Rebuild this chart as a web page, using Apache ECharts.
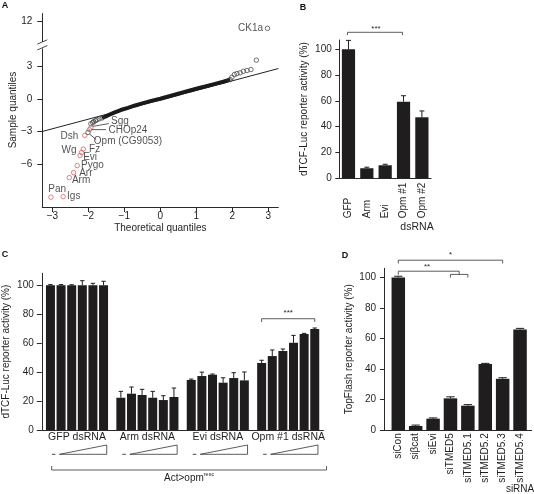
<!DOCTYPE html>
<html><head><meta charset="utf-8">
<script src="https://cdn.jsdelivr.net/npm/echarts@6/dist/echarts.min.js"></script>
<style>html,body{margin:0;padding:0;background:#fff}#c{width:534px;height:494px}</style>
</head><body><div id="c"></div>
<script>
// ---------- Panel A : Q-Q plot ----------
const aBandX = [-1.62,-1.48,-1.30,-1.10,-0.90,-0.70,-0.50,-0.25,0.00,0.25,0.50,0.75,1.00,1.25,1.50,1.75,1.94];
const aBandY = [-1.75,-1.55,-1.28,-1.02,-0.82,-0.60,-0.41,-0.18,0.02,0.25,0.48,0.71,0.93,1.14,1.36,1.58,1.78];
const aTailX = [-1.93,-1.88,-1.85,-1.80,-1.76,-1.70,-1.62,1.94,1.99,2.06,2.13,2.22,2.31,2.41,2.52,2.67];
const aTailY = [-2.28,-2.18,-2.09,-2.00,-1.91,-1.83,-1.75,1.78,1.99,2.24,2.33,2.40,2.54,2.61,2.70,3.56];
const aHitNames = ['Sgg','CHOp24','Dsh','Fz','Wg','Evi','Pygo','Arr','Arm','Igs','Pan'];
const aHitX = [-1.93,-1.97,-2.10,-2.14,-2.19,-2.23,-2.31,-2.41,-2.53,-2.70,-3.04];
const aHitY = [-2.66,-2.82,-3.35,-4.61,-4.92,-5.20,-6.12,-6.77,-7.23,-8.98,-9.03];
const aOtherNames = ['Opm (CG9053)','CK1a'];
const aOtherX = [-2.01, 2.98];
const aOtherY = [-3.08, 11.35];
const aRefX = [-3.28, 3.28];
const aRefY = [-2.99, 2.79];
const aXTicks = [-3,-2,-1,0,1,2,3];
const aYTicks = [-6,-3,0,3,12];
// ---------- Panel B ----------
const bCats = ['GFP','Arm','Evi','Opm #1','Opm #2'];
const bVals = [100, 7.8, 10.1, 59.4, 47.3];
const bErr  = [106.9, 8.6, 10.9, 64.0, 52.2];
// ---------- Panel C ----------
const cGroups = ['GFP dsRNA','Arm dsRNA','Evi dsRNA','Opm #1 dsRNA'];
const cGFP    = [100,100,100,100,100,100];
const cGFPErr = [100.5,100.5,100.4,103.2,101.4,102.8];
const cArm    = [22.3,25.1,24.2,22.3,20.7,22.8];
const cArmErr = [26.7,29.7,28.1,26.7,23.7,29.0];
const cEvi    = [34.6,37.3,38.2,32.7,35.9,34.3];
const cEviErr = [35.2,40.0,38.7,36.1,39.6,40.1];
const cOpm    = [46.3,51.1,54.6,60.3,66.3,69.8];
const cOpmErr = [48.2,55.3,56.0,65.4,66.8,70.5];
// ---------- Panel D ----------
const dCats = ['siCon','si\u03b2cat','siEvi','siTMED5','siTMED5.1','siTMED5.2','siTMED5.3','siTMED5.4'];
const dVals = [100, 2.8, 7.6, 20.9, 16.1, 43.3, 33.7, 66.0];
const dErr  = [100.8, 3.4, 8.1, 21.9, 16.8, 43.8, 34.4, 66.7];
const pctTicks = [0,20,40,60,80,100];

// ---------- styles ----------
const F = '"Liberation Sans", Arial, Helvetica, sans-serif';
const TXT = '#231f20';
const AX = '#2a2a2a';
const BAR = '#1f1d1e';
const RED = '#d9534f';
const FS = 10;
const labelPos = { // label centre offsets from the point, px
  'Sgg':[29,-6.5],'CHOp24':[38.5,0.3],'Dsh':[-15.3,1],'Fz':[11.3,0.4],'Wg':[-12.5,-2.7],
  'Evi':[10,2],'Pygo':[15.2,0],'Arr':[12.2,0.6],'Arm':[11.8,3],'Igs':[10.6,-0.5],'Pan':[6.3,-8],
  'Opm (CG9053)':[40,9],'CK1a':[-17,0]
};
const CW = 9, CGAP = 0.18, CPITCH = CW*(1+CGAP);

const chart = echarts.init(document.getElementById('c'));
const minus = v => String(v).replace('-', '\u2212');
function axisCommon(extra){
  return Object.assign({
    axisLine:{show:true,onZero:false,lineStyle:{color:AX,width:1}},
    axisTick:{show:true,length:4,inside:false,lineStyle:{color:AX,width:1}},
    splitLine:{show:false},
    nameMoveOverlap:false,
    axisLabel:{color:TXT,fontSize:FS,fontFamily:F},
    nameTextStyle:{color:TXT,fontSize:FS,fontFamily:F}
  }, extra);
}
function errRender(cap, useDose){
  return function(params, api){
    const x = api.value(0), v = api.value(1), e = api.value(2);
    const pv = api.coord([x, v]), pe = api.coord([x, e]);
    let cx = pv[0];
    if (useDose) cx += (api.value(3) - 2.5) * CPITCH;
    return {type:'group', children:[
      {type:'line', shape:{x1:cx,y1:pv[1],x2:cx,y2:pe[1]}, style:{stroke:BAR,lineWidth:1}},
      {type:'line', shape:{x1:cx-cap,y1:pe[1],x2:cx+cap,y2:pe[1]}, style:{stroke:BAR,lineWidth:1}}
    ]};
  };
}
const zip = (a,b) => a.map((v,i)=>[v,b[i]]);
const hollow = c => ({color:'rgba(0,0,0,0)', borderColor:c, borderWidth:0.9});
function labelled(names, xs, ys){
  return names.map((n,i)=>({name:n, value:[xs[i],ys[i]], label:{offset:labelPos[n]}}));
}
const geneLabel = {show:true, position:'inside', formatter:'{b}', color:TXT, fontSize:FS, fontFamily:F};

const cSets = [cGFP,cArm,cEvi,cOpm], cErrSets = [cGFPErr,cArmErr,cEviErr,cOpmErr];
const cBarSeries = [0,1,2,3,4,5].map(k=>({
  type:'bar', xAxisIndex:2, yAxisIndex:2, barWidth:CW, barGap:(CGAP*100)+'%',
  data: cSets.map(s=>s[k]), itemStyle:{color:BAR}, silent:true
}));
const cErrData = [];
cSets.forEach((s,g)=>s.forEach((v,k)=>cErrData.push([g, v, cErrSets[g][k], k])));

const option = {
  animation:false,
  textStyle:{fontFamily:F},
  grid:[
    {left:42.3, top:13, width:236, height:194, outerBoundsMode:'none'},
    {left:339.3, top:40, width:91.75, height:138.3, outerBoundsMode:'none'},
    {left:41.8, top:273.3, width:281.6, height:156.7, outerBoundsMode:'none'},
    {left:384, top:268.3, width:147.7, height:162, outerBoundsMode:'none'}
  ],
  xAxis:[
    axisCommon({type:'value', gridIndex:0, min:-3.28, max:3.28,
      axisTick:{show:true,length:5,customValues:aXTicks,lineStyle:{color:AX}},
      axisLabel:{customValues:aXTicks, formatter:minus, margin:4, color:TXT, fontSize:FS, fontFamily:F},
      name:'Theoretical quantiles', nameLocation:'middle', nameGap:16}),
    axisCommon({type:'category', gridIndex:1, data:bCats, axisTick:{show:false},
      axisLabel:{rotate:90, align:'left', margin:40, interval:0, color:TXT, fontSize:FS, fontFamily:F}}),
    axisCommon({type:'category', gridIndex:2, data:cGroups, axisTick:{show:false},
      axisLabel:{margin:2, interval:0, color:TXT, fontSize:FS+0.5, fontFamily:F}}),
    axisCommon({type:'value', gridIndex:3, min:-0.822, max:7.67, axisTick:{show:false},
      axisLabel:{customValues:[0,1,2,3,4,5,6,7], formatter:v=>dCats[Math.round(v)], rotate:90, margin:3, color:TXT, fontSize:FS, fontFamily:F}})
  ],
  yAxis:[
    axisCommon({type:'value', gridIndex:0, min:-9.93, max:12.76,
      breaks:[{start:4.7, end:10.1, gap:'3%'}],
      breakArea:{show:true, itemStyle:{color:'#fff', borderColor:'rgba(0,0,0,0)', borderWidth:0, opacity:1}, zigzagAmplitude:0},
      axisTick:{show:true,length:5,customValues:aYTicks,lineStyle:{color:AX}},
      axisLabel:{customValues:aYTicks, formatter:minus, margin:10, color:TXT, fontSize:FS, fontFamily:F},
      name:'Sample quantiles', nameLocation:'middle', nameGap:24}),
    axisCommon({type:'value', gridIndex:1, min:0, max:107.2,
      axisTick:{show:true,length:4,customValues:pctTicks,lineStyle:{color:AX}},
      axisLabel:{customValues:pctTicks, margin:7.5, color:TXT, fontSize:FS, fontFamily:F},
      name:'dTCF-Luc reporter activity (%)', nameLocation:'middle', nameGap:30}),
    axisCommon({type:'value', gridIndex:2, min:0, max:108.3,
      axisTick:{show:true,length:5,customValues:pctTicks,lineStyle:{color:AX}},
      axisLabel:{customValues:pctTicks, margin:8, color:TXT, fontSize:FS, fontFamily:F},
      name:'dTCF-Luc reporter activity (%)', nameLocation:'middle', nameGap:30.5}),
    axisCommon({type:'value', gridIndex:3, min:0, max:106,
      axisTick:{show:true,length:4,customValues:pctTicks,lineStyle:{color:AX}},
      axisLabel:{customValues:pctTicks, margin:8, color:TXT, fontSize:FS, fontFamily:F},
      name:'TopFlash reporter activity (%)', nameLocation:'middle', nameGap:30})
  ],
  series:[
    {type:'line', xAxisIndex:0, yAxisIndex:0, data:zip(aRefX,aRefY), symbol:'none', silent:true,
      lineStyle:{color:'#222',width:1}, z:1},
    {type:'line', xAxisIndex:0, yAxisIndex:0, data:zip(aBandX,aBandY), symbol:'none', silent:true,
      lineStyle:{color:'#1a1a1a',width:4}, z:2},
    {type:'scatter', xAxisIndex:0, yAxisIndex:0, data:zip(aTailX,aTailY), symbolSize:4.5,
      itemStyle:hollow('#3a3a3a'), silent:true, z:3},
    {type:'scatter', xAxisIndex:0, yAxisIndex:0, data:labelled(aHitNames,aHitX,aHitY), symbolSize:4.5,
      itemStyle:hollow(RED), label:geneLabel, silent:true, z:4},
    {type:'scatter', xAxisIndex:0, yAxisIndex:0, data:labelled(aOtherNames,aOtherX,aOtherY), symbolSize:4.5,
      itemStyle:hollow('#3a3a3a'), label:geneLabel, silent:true, z:4},
    {type:'bar', xAxisIndex:1, yAxisIndex:1, data:bVals, barWidth:'72%', itemStyle:{color:BAR}, silent:true},
    {type:'custom', xAxisIndex:1, yAxisIndex:1, data:bVals.map((v,i)=>[i,v,bErr[i]]),
      renderItem:errRender(2.5,false), z:5, silent:true},
    ...cBarSeries,
    {type:'custom', xAxisIndex:2, yAxisIndex:2, data:cErrData, renderItem:errRender(2.2,true), z:5, silent:true},
    {type:'bar', xAxisIndex:3, yAxisIndex:3, data:dVals.map((v,i)=>[i,v]), barWidth:13.5, itemStyle:{color:BAR}, silent:true},
    {type:'custom', xAxisIndex:3, yAxisIndex:3, data:dVals.map((v,i)=>[i,v,dErr[i]]),
      renderItem:errRender(4.2,false), z:5, silent:true}
  ]
};
chart.setOption(option);

// ---------- annotations ----------
const P = (g, xy) => chart.convertToPixel({gridIndex:g}, xy);
const G = [];
const ln = (pts, w) => ({type:'polyline', shape:{points:pts}, style:{stroke:'#333', lineWidth:w||0.8, fill:null}, z:100, silent:true});
const tx = (x, y, t, fs, extra) => ({type:'text', x:x, y:y, style:Object.assign({text:t, fill:TXT, font:(fs||FS)+'px '+F, align:'center', verticalAlign:'middle'}, extra||{}), z:100, silent:true});
function bracket(x1, x2, y, leg){ return ln([[x1,y+leg],[x1,y],[x2,y],[x2,y+leg]]); }

// panel letters
const letter = (x,y,t)=>({type:'text', x:x, y:y, style:{text:t, fill:'#111', font:'bold 9px '+F, align:'center', verticalAlign:'middle'}, z:100});
G.push(letter(5,6,'A'), letter(303,8,'B'), letter(5,255,'C'), letter(345,256,'D'));

// A: axis break marks and leader lines
(function(){
  const ax = P(0,[-3.28,0])[0];
  const yS = P(0,[-3.28,4.7])[1], yE = P(0,[-3.28,10.1])[1];
  G.push({type:'rect', shape:{x:ax-2, y:Math.min(yS,yE), width:4, height:Math.abs(yS-yE)}, style:{fill:'#fff'}, z:99});
  G.push(ln([[ax-5,yS+2.2],[ax+5,yS-2.2]],0.9), ln([[ax-5,yE+2.2],[ax+5,yE-2.2]],0.9));
  const pS = P(0,[aHitX[0],aHitY[0]]), pC = P(0,[aHitX[1],aHitY[1]]), pO = P(0,[aOtherX[0],aOtherY[0]]);
  G.push(ln([[pS[0]+2,pS[1]-1.5],[pS[0]+18,pS[1]-4.3]]));
  G.push(ln([[pC[0]+2.3,pC[1]],[pC[0]+16.5,pC[1]]]));
  G.push(ln([[pO[0]+1.6,pO[1]+1.6],[pO[0]+8.3,pO[1]+7.3]]));
})();

// B: significance + dsRNA
(function(){
  const x1 = P(1,[0,0])[0], x2 = P(1,[3,0])[0];
  const yt = P(1,[0,107.2])[1];
  G.push(bracket(x1-1, x2-1, yt-7.7, 2.7));
  G.push(tx((x1+x2)/2, yt-11.5, '***', 8));
  G.push(tx(417, 226.7, 'dsRNA', FS+0.5));
})();

// C: significance, dose wedges, Act>opm bracket
(function(){
  const y0 = P(2,[0,0])[1];
  const half = (6*CW + 5*CW*CGAP)/2;
  const c3 = P(2,[3,0])[0];
  const yb = P(2,[3,76.9])[1];
  G.push(bracket(c3-2.5*CPITCH, c3+2.5*CPITCH, yb, 3.3));
  G.push(tx(c3, yb-6, '***', 8));
  for (let g=0; g<cGroups.length; g++){
    const cx = P(2,[g,0])[0], gl = cx-half, gr = cx+half;
    G.push(ln([[gl+6,y0+24.3],[gl+9.5,y0+24.3]],0.9));
    G.push(ln([[gl+13.5,y0+24.3],[gr-1.3,y0+24.3],[gr-1.3,y0+15],[gl+13.5,y0+24.3]],0.8));
  }
  const L = P(2,[0,0])[0]-half+5.7, R = c3+half+7.3;
  G.push(ln([[L,y0+36],[L,y0+40],[R,y0+40],[R,y0+36]],0.8));
  G.push({type:'text', x:(L+R)/2, y:y0+48.3, style:{text:'{a|Act>opm}{s|resc}', rich:{a:{fontSize:FS,fontFamily:F,fill:TXT}, s:{fontSize:5.5,fontFamily:F,fill:TXT,padding:[0,0,7,0]}}, align:'center', verticalAlign:'middle'}, z:100});
})();

// D: significance + siRNA
(function(){
  const p = v => P(3,[v,0])[0];
  const y = v => P(3,[0,v])[1];
  G.push(bracket(p(0), p(6), y(111.3), 3.3));
  G.push(tx((p(0)+p(6))/2, y(114.8), '*', 8));
  G.push(ln([[p(0),y(101.8)],[p(0),y(104.1)],[p(3.5),y(104.1)],[p(3.5),y(102.0)]]));
  G.push(bracket(p(3), p(4), y(102.0), 3.2));
  G.push(tx(p(1.65), y(107.3), '**', 8));
  G.push(tx(p(7), 489, 'siRNA', FS));
})();
chart.setOption({graphic:G});
</script></body></html>
